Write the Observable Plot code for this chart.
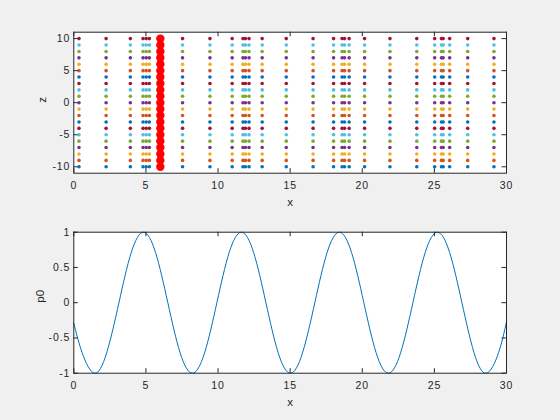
<!DOCTYPE html>
<html><head><meta charset="utf-8">
<script src="https://cdn.jsdelivr.net/npm/d3@7"></script>
<script src="https://cdn.jsdelivr.net/npm/@observablehq/plot@0.6"></script>
<style>
body{margin:0;background:#f0f0f0;}
#chart{width:560px;height:420px;overflow:hidden;}
#chart svg{display:block;}
</style></head><body><div id="chart"></div>
<script>
// ---- data ----
const xPositions = [0.36, 2.24, 3.92, 4.80, 5.02, 5.24, 7.54, 9.44, 10.98, 11.73, 11.90, 12.15, 13.06, 14.73, 16.59, 18.01, 18.60, 18.77, 19.09, 20.16, 21.92, 23.78, 25.02, 25.49, 25.61, 26.06, 27.31, 29.13];
const zLevels = [-10, -9, -8, -7, -6, -5, -4, -3, -2, -1, 0, 1, 2, 3, 4, 5, 6, 7, 8, 9, 10];
const seriesColors = ["#0072BD", "#D95319", "#EDB120", "#7E2F8E", "#77AC30", "#4DBEEE", "#A2142F"];
const redX = 6.0;
const curveX = [0, 0.58, 1.43, 2.28, 3.13, 3.98, 4.83, 5.67, 6.52, 7.37, 8.22, 9.07, 9.92, 10.77, 11.62, 12.47, 13.32, 14.17, 15.02, 15.86, 16.71, 17.56, 18.41, 19.26, 20.11, 20.96, 21.81, 22.66, 23.51, 24.36, 25.21, 26.06, 26.91, 27.75, 28.60, 29.45, 30];
const curveP0 = [-0.29, -0.71, -1, -0.71, 0, 0.71, 1, 0.71, 0, -0.71, -1, -0.71, 0, 0.71, 1, 0.71, 0, -0.71, -1, -0.71, 0, 0.71, 1, 0.71, 0, -0.71, -1, -0.71, 0, 0.71, 1, 0.71, 0, -0.71, -1, -0.71, -0.27];
const xTicks = [0, 5, 10, 15, 20, 25, 30];
const zTicks = [-10, -5, 0, 5, 10];
const p0Ticks = [-1, -0.5, 0, 0.5, 1];

// ---- derived tables ----
const points = [];
zLevels.forEach((z, i) => xPositions.forEach(x => points.push({x, z, c: seriesColors[i % seriesColors.length]})));
const redPoints = zLevels.map(z => ({x: redX, z}));
const curve = curveX.map((x, i) => ({x, p: curveP0[i]}));

const W = 560, H = 210, ML = 73.3, MR = 54;
const frameW = W - ML - MR;
const TL = 4.5; // tick length
const ink = "#262626";
const font = "'Liberation Sans', Arial, sans-serif";

function panel({marginTop, marginBottom, yDomain, yTicks, yLabel, yLabelDx, xLabelDy, marks}) {
  const frameH = H - marginTop - marginBottom;
  return Plot.plot({
    width: W, height: H,
    marginLeft: ML, marginRight: MR, marginTop, marginBottom,
    style: {background: "transparent", fontFamily: font, fontSize: "10.5px", color: ink, overflow: "visible"},
    x: {domain: [0, 30]},
    y: {domain: yDomain},
    marks: [
      Plot.frame({fill: "white", stroke: "none"}),
      ...marks,
      Plot.tickX(xTicks, {x: d => d, stroke: ink, insetTop: frameH - TL}),
      Plot.tickX(xTicks, {x: d => d, stroke: ink, insetBottom: frameH - TL}),
      Plot.tickY(yTicks, {y: d => d, stroke: ink, insetRight: frameW - TL}),
      Plot.tickY(yTicks, {y: d => d, stroke: ink, insetLeft: frameW - TL}),
      Plot.axisX(xTicks, {tickSize: 0, tickPadding: 8, label: null, tickFormat: d => String(d), fill: ink, fontSize: 10.5, style: "letter-spacing:0.9px"}),
      Plot.axisY(yTicks, {tickSize: 0, tickPadding: 3.5, label: null, tickFormat: d => String(d), fill: ink, fontSize: 10.5}),
      Plot.text(["x"], {text: d => d, frameAnchor: "bottom", dy: xLabelDy, fill: ink, fontSize: 11.5}),
      Plot.text([yLabel], {text: d => d, frameAnchor: "left", rotate: -90, dx: yLabelDx, fill: ink, fontSize: 11.5}),
      Plot.frame({stroke: ink, strokeWidth: 1})
    ]
  });
}

const topPanel = panel({
  marginTop: 31.7, marginBottom: 37.3, yDomain: [-11, 11], yTicks: zTicks,
  yLabel: "z", yLabelDx: -31, xLabelDy: 32.5,
  marks: [
    Plot.dot(points, {x: "x", y: "z", fill: "c", r: 1.8}),
    Plot.dot(redPoints, {x: "x", y: "z", fill: "#FF0000", r: 4.2})
  ]
});

const bottomPanel = panel({
  marginTop: 21.7, marginBottom: 47.3, yDomain: [-1, 1], yTicks: p0Ticks,
  yLabel: "p0", yLabelDx: -33.5, xLabelDy: 32.5,
  marks: [
    Plot.line(curve, {x: "x", y: "p", stroke: "#0072BD", strokeWidth: 1, curve: "natural"})
  ]
});

// widen tick-label spacing a little (hinted MATLAB rendering)
for (const svg of [topPanel, bottomPanel]) {
  svg.querySelectorAll("g[aria-label='x-axis tick label'] text, g[aria-label='y-axis tick label'] text")
    .forEach(t => t.setAttribute("letter-spacing", "0.9"));
}

document.getElementById("chart").append(topPanel, bottomPanel);
</script>
</body></html>
